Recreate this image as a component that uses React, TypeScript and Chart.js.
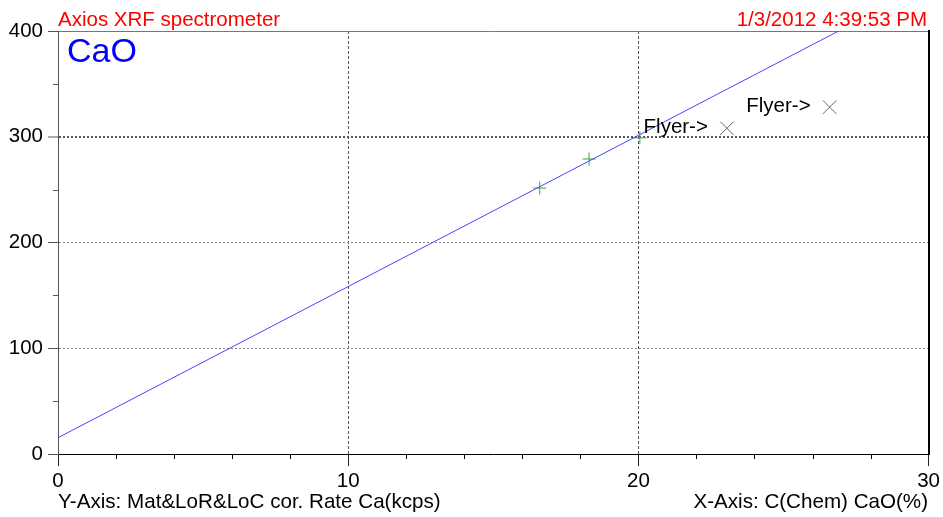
import React, { useEffect, useRef } from "react";
import { Chart, registerables } from "chart.js";

Chart.register(...registerables);

// ---- data ----
const calLineX = [0, 26.9];
const calLineY = [15.4, 400];
const standardX = [16.6, 18.3, 20.05];
const standardY = [251.5, 279, 299];
const flyerX = [23.05, 26.59];
const flyerY = [308, 328];
const flyerLabels = ["Flyer->", "Flyer->"];

const xMin = 0, xMax = 30, xStep = 10, xMinorStep = 2;
const yMin = 0, yMax = 400, yStep = 100, yMinorStep = 50;

const titleLeft = "Axios XRF spectrometer";
const titleRight = "1/3/2012 4:39:53 PM";
const compound = "CaO";
const yAxisTitle = "Y-Axis: Mat&LoR&LoC cor. Rate Ca(kcps)";
const xAxisTitle = "X-Axis: C(Chem) CaO(%)";

const FONT = "'Liberation Sans', Arial, sans-serif";

const textPlugin = {
  id: "extraText",
  afterDraw(chart: any) {
    const ctx = chart.ctx;
    const area = chart.chartArea;
    const xs = chart.scales.x;
    const ys = chart.scales.y;
    ctx.save();
    // minor ticks
    ctx.lineWidth = 1;
    ctx.strokeStyle = "#000";
    for (let v = xMin; v <= xMax; v += xMinorStep) {
      if (v % xStep === 0) continue;
      const px = Math.round(xs.getPixelForValue(v)) + 0.5;
      ctx.beginPath();
      ctx.moveTo(px, area.bottom);
      ctx.lineTo(px, area.bottom + 5);
      ctx.stroke();
    }
    ctx.strokeStyle = "#555";
    for (let v = yMin; v <= yMax; v += yMinorStep) {
      if (v % yStep === 0) continue;
      const py = Math.round(ys.getPixelForValue(v)) + 0.5;
      ctx.beginPath();
      ctx.moveTo(area.left - 5, py);
      ctx.lineTo(area.left, py);
      ctx.stroke();
    }
    // header texts
    ctx.font = `20.5px ${FONT}`;
    ctx.fillStyle = "#ff0000";
    ctx.textBaseline = "alphabetic";
    ctx.textAlign = "left";
    ctx.fillText(titleLeft, 58, 26);
    ctx.textAlign = "right";
    ctx.fillText(titleRight, 927, 26);
    // compound
    ctx.font = `34px ${FONT}`;
    ctx.fillStyle = "#0000ff";
    ctx.textAlign = "left";
    ctx.fillText(compound, 67, 62);
    // axis titles
    ctx.font = `20.6px ${FONT}`;
    ctx.fillStyle = "#000";
    ctx.textAlign = "left";
    ctx.fillText(yAxisTitle, 58, 508);
    ctx.textAlign = "right";
    ctx.fillText(xAxisTitle, 928, 508);
    // flyer labels
    const meta = chart.getDatasetMeta(2);
    ctx.font = `20.5px ${FONT}`;
    ctx.textAlign = "right";
    ctx.textBaseline = "middle";
    meta.data.forEach((pt: any, i: number) => {
      ctx.fillText(flyerLabels[i], pt.x - 19, pt.y - 1);
    });
    ctx.restore();
  },
};

export default function App() {
  const ref = useRef<HTMLCanvasElement>(null);
  useEffect(() => {
    if (!ref.current) return;
    const chart = new Chart(ref.current, {
      type: "scatter",
      data: {
        datasets: [
          {
            type: "line",
            data: calLineX.map((x, i) => ({ x, y: calLineY[i] })),
            borderColor: "#4646ff",
            borderWidth: 1,
            pointRadius: 0,
            fill: false,
            xAxisID: "x",
            yAxisID: "y",
          } as any,
          {
            data: standardX.map((x, i) => ({ x, y: standardY[i] })),
            pointStyle: "cross",
            pointRadius: 6.5,
            borderColor: "#3aa63a",
            backgroundColor: "#3aa63a",
            borderWidth: 1,
            xAxisID: "x",
            yAxisID: "y",
          },
          {
            data: flyerX.map((x, i) => ({ x, y: flyerY[i] })),
            pointStyle: "crossRot",
            pointRadius: 9.5,
            borderColor: "#666",
            backgroundColor: "#666",
            borderWidth: 1,
            xAxisID: "x",
            yAxisID: "y",
          },
        ],
      },
      options: {
        responsive: false,
        animation: false,
        devicePixelRatio: 1,
        layout: { padding: 0 },
        plugins: { legend: { display: false }, tooltip: { enabled: false }, title: { display: false } },
        scales: {
          x: {
            type: "linear",
            position: "bottom",
            min: xMin,
            max: xMax,
            ticks: { stepSize: xStep, font: { family: FONT, size: 20.5 }, color: "#000", padding: 3, maxRotation: 0 },
            grid: {
              color: (c: any) => (c.tick && (c.tick.value === xMin || c.tick.value === xMax) ? "rgba(0,0,0,0)" : "#555"),
              tickColor: "#222",
              tickLength: 12,
              lineWidth: 1,
            },
            border: { color: "#000", width: 1, dash: [3, 2] },
            afterFit: (s: any) => { s.height = 63; },
          },
          xT: {
            type: "linear",
            position: "top",
            min: xMin,
            max: xMax,
            ticks: { display: false },
            grid: { drawOnChartArea: false, drawTicks: false },
            border: { color: "#777", width: 1 },
            afterFit: (s: any) => { s.height = 31; },
          },
          y: {
            type: "linear",
            position: "left",
            min: yMin,
            max: yMax,
            ticks: { stepSize: yStep, font: { family: FONT, size: 20.5 }, color: "#000", padding: 5 },
            grid: {
              color: (c: any) => {
                const v = c.tick && c.tick.value;
                if (v === yMin || v === yMax) return "rgba(0,0,0,0)";
                return v === 300 ? "#555" : "#888";
              },
              lineWidth: (c: any) => (c.tick && c.tick.value === 300 ? 2 : 1),
              tickColor: "#555",
              tickLength: 10,
              tickWidth: 1,
            },
            border: {
              color: "#555",
              width: 1,
              dash: [2, 2],
            },
            afterFit: (s: any) => { s.width = 58; },
          },
          yR: {
            type: "linear",
            position: "right",
            min: yMin,
            max: yMax,
            ticks: { display: false },
            grid: { drawOnChartArea: false, drawTicks: false },
            border: { color: "#000", width: 2 },
            afterFit: (s: any) => { s.width = 14; },
          },
        },
      } as any,
      plugins: [textPlugin],
    });
    return () => chart.destroy();
  }, []);
  return (
    <div style={{ position: "fixed", left: 0, top: 0, width: 943, height: 517, background: "#fff" }}>
      <canvas ref={ref} width={943} height={517} style={{ display: "block", width: 943, height: 517 }} />
    </div>
  );
}
